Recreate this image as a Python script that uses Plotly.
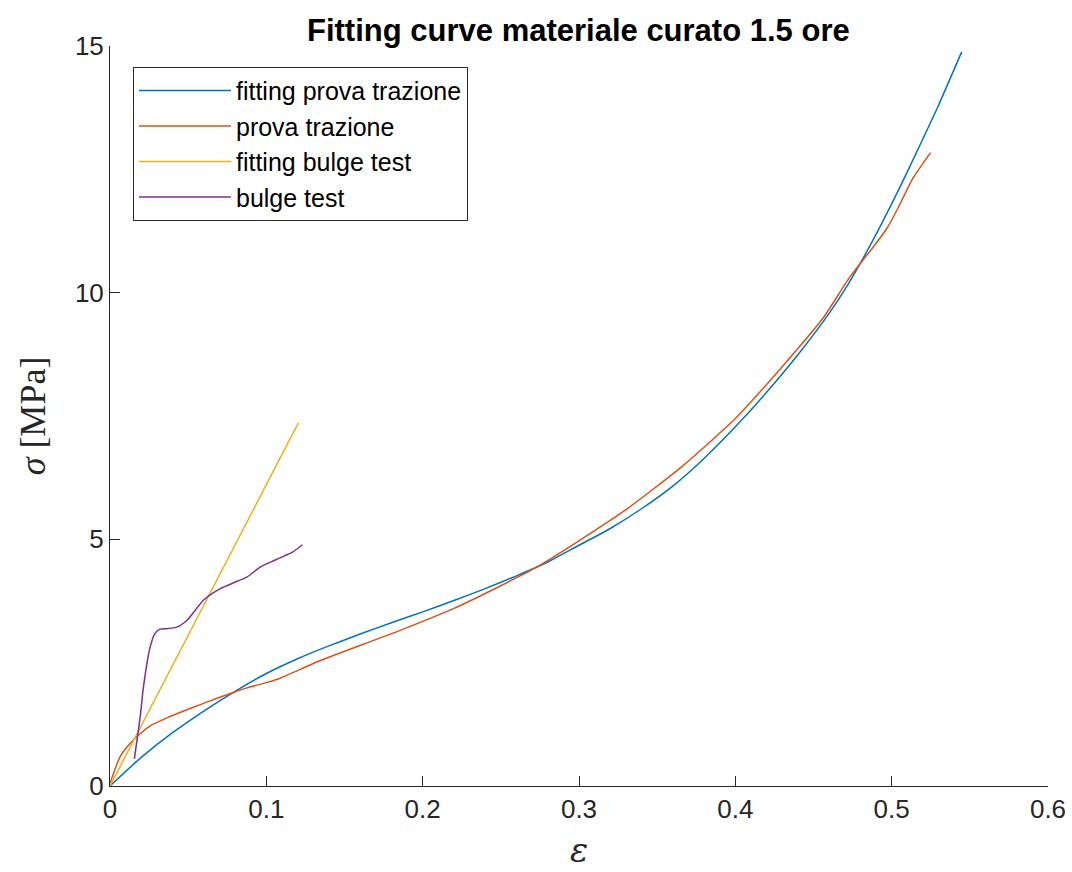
import plotly.graph_objects as go

# ---- data ----
fit_trazione_x = [0, 0.02, 0.04, 0.06, 0.08, 0.10, 0.12, 0.14, 0.16, 0.18, 0.20, 0.22, 0.24,
                  0.26, 0.28, 0.30, 0.32, 0.34, 0.36, 0.38, 0.40, 0.42, 0.44, 0.46, 0.47,
                  0.48, 0.49, 0.50, 0.51, 0.52, 0.53, 0.5448]
fit_trazione_y = [0, 0.58, 1.08, 1.52, 1.92, 2.28, 2.58, 2.84, 3.08, 3.31, 3.53, 3.76, 4.00,
                  4.26, 4.54, 4.88, 5.22, 5.62, 6.08, 6.64, 7.28, 7.98, 8.74, 9.58, 10.06,
                  10.60, 11.18, 11.80, 12.45, 13.12, 13.80, 14.88]

trazione_x = [0, 0.0064, 0.0128, 0.0182, 0.0257, 0.0364, 0.0471, 0.0578, 0.0685, 0.0792,
              0.0899, 0.1006, 0.1092, 0.122, 0.135, 0.186, 0.22, 0.25, 0.272, 0.30,
              0.33, 0.366, 0.40, 0.43, 0.456, 0.4731, 0.4881, 0.4967, 0.502, 0.5074,
              0.5138, 0.5249]
trazione_y = [0.05, 0.59, 0.86, 1.03, 1.22, 1.38, 1.52, 1.65, 1.78, 1.90,
              2.01, 2.10, 2.19, 2.37, 2.55, 3.16, 3.60, 4.06, 4.42, 4.97,
              5.60, 6.48, 7.45, 8.50, 9.48, 10.31, 10.92, 11.29, 11.59, 11.93,
              12.33, 12.84]

fit_bulge_x = [0, 0.1205]
fit_bulge_y = [0, 7.36]

bulge_x = [0.0156, 0.0193, 0.0214, 0.0257, 0.0289, 0.0320, 0.0364, 0.0428, 0.0493, 0.0599,
           0.0706, 0.0814, 0.0878, 0.0963, 0.105, 0.1113, 0.1167, 0.1231]
bulge_y = [0.55, 1.40, 2.01, 2.82, 3.10, 3.18, 3.19, 3.22, 3.36, 3.77,
           4.00, 4.15, 4.24, 4.44, 4.57, 4.66, 4.74, 4.89]

x_ticks = [0, 0.1, 0.2, 0.3, 0.4, 0.5, 0.6]
x_ticklabels = ["0", "0.1", "0.2", "0.3", "0.4", "0.5", "0.6"]
y_ticks = [0, 5, 10, 15]
y_ticklabels = ["0", "5", "10", "15"]

names = ["fitting prova trazione", "prova trazione", "fitting bulge test", "bulge test"]
colors = ["#0072BD", "#D95319", "#EDB120", "#7E2F8E"]

fig = go.Figure()
series = [(fit_trazione_x, fit_trazione_y, "spline"),
          (trazione_x, trazione_y, "spline"),
          (fit_bulge_x, fit_bulge_y, "linear"),
          (bulge_x, bulge_y, "spline")]
for (xs, ys, shape), name, col in zip(series, names, colors):
    fig.add_trace(go.Scatter(x=xs, y=ys, mode="lines", name=name,
                             line=dict(color=col, width=1.5, shape=shape, smoothing=0.6)))

axis_col = "#262626"
fig.update_layout(
    width=1072, height=872,
    margin=dict(l=110, r=24, t=46, b=86, autoexpand=False),
    paper_bgcolor="white", plot_bgcolor="white",
    font=dict(family="Liberation Sans, Arial, sans-serif", size=26, color=axis_col),
    title=dict(text="<b>Fitting curve materiale curato 1.5 ore</b>",
               x=0.5395, xanchor="center", y=1 - 30 / 872, yanchor="middle",
               font=dict(family="Liberation Sans, Arial, sans-serif", size=31, color="black")),
    xaxis=dict(range=[0, 0.6], tickvals=x_ticks, ticktext=x_ticklabels, automargin=False,
               showgrid=False, zeroline=False, showline=True, linecolor=axis_col, linewidth=1,
               ticks="inside", ticklen=10, tickcolor=axis_col, mirror=False,
               tickfont=dict(size=26, color=axis_col),
               title=dict(text="<i>ε</i>", standoff=14,
                          font=dict(family="DejaVu Serif, Liberation Serif, serif", size=34, color=axis_col))),
    yaxis=dict(range=[0, 15], tickvals=y_ticks, ticktext=y_ticklabels, automargin=False,
               showgrid=False, zeroline=False, showline=True, linecolor=axis_col, linewidth=1,
               ticks="inside", ticklen=10, tickcolor=axis_col, mirror=False,
               tickfont=dict(size=26, color=axis_col),
               title=dict(text="<i>σ</i> [MPa]", standoff=18,
                          font=dict(family="Liberation Serif, DejaVu Serif, serif", size=36, color=axis_col))),
    legend=dict(x=0.0245, y=0.972, xanchor="left", yanchor="top",
                bgcolor="white", bordercolor=axis_col, borderwidth=1,
                font=dict(size=25, color="black"), tracegroupgap=0, itemwidth=92),
    showlegend=True,
)

fig.write_html("out.html")
